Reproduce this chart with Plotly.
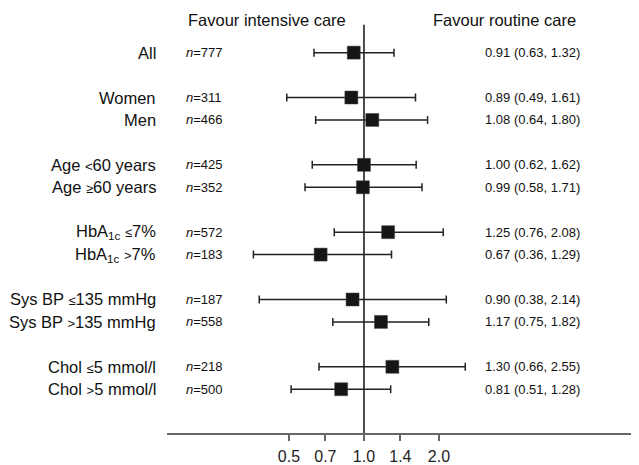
import math
import plotly.graph_objects as go

# ---- data ----
SYM = "<span style='font-size:13px'>{}</span>"
labels = ["All", "Women", "Men",
          "Age " + SYM.format("&lt;") + "60 years",
          "Age " + SYM.format("≥") + "60 years",
          "HbA<sub>1c</sub> " + SYM.format("≤") + "7%",
          "HbA<sub>1c</sub> " + SYM.format("&gt;") + "7%",
          "Sys BP " + SYM.format("≤") + "135 mmHg",
          "Sys BP " + SYM.format("&gt;") + "135 mmHg",
          "Chol " + SYM.format("≤") + "5 mmol/l",
          "Chol " + SYM.format("&gt;") + "5 mmol/l"]
n_vals = [777, 311, 466, 425, 352, 572, 183, 187, 558, 218, 500]
est = [0.91, 0.89, 1.08, 1.00, 0.99, 1.25, 0.67, 0.90, 1.17, 1.30, 0.81]
lo = [0.63, 0.49, 0.64, 0.62, 0.58, 0.76, 0.36, 0.38, 0.75, 0.66, 0.51]
hi = [1.32, 1.61, 1.80, 1.62, 1.71, 2.08, 1.29, 2.14, 1.82, 2.55, 1.28]
group_sizes = [1, 2, 2, 2, 2, 2]
tick_vals = [0.5, 0.7, 1.0, 1.4, 2.0]
tick_text = ["0.5", "0.7", "1.0", "1.4", "2.0"]
header_left = "Favour intensive care"
header_right = "Favour routine care"

# ---- layout of rows (one blank row between groups) ----
rows = []
r = 0
for g in group_sizes:
    for k in range(g):
        rows.append(r)
        r += 1
    r += 1

OFF = 8  # page body margin
W, H = 639 - OFF, 465 - OFF
L, R, T, B = 167 - OFF, 0, 10 - OFF, 29
pw = W - L - R

def px(xpage):
    return (xpage - OFF - L) / pw

FONT = "Liberation Sans, Arial, sans-serif"
TXT = "#111111"

fig = go.Figure()

# reference line at 1
fig.add_trace(go.Scatter(x=[1, 1], y=[-1.24, 16.95], mode="lines",
                         line=dict(color="#111111", width=1.5),
                         hoverinfo="skip", showlegend=False, cliponaxis=False))

fig.add_trace(go.Scatter(
    x=est, y=rows, mode="markers",
    marker=dict(symbol="square", size=13, color="#151515",
                line=dict(width=0.5, color="#444")),
    error_x=dict(type="data", symmetric=False,
                 array=[h - e for h, e in zip(hi, est)],
                 arrayminus=[e - l for e, l in zip(est, lo)],
                 color="#222222", thickness=1.5, width=4),
    showlegend=False, cliponaxis=False))

ann = []
for lab, n, e, l, h, y in zip(labels, n_vals, est, lo, hi, rows):
    ann.append(dict(x=px(158), y=y, xref="paper", yref="y", text=lab,
                    xanchor="right", yanchor="middle", showarrow=False,
                    font=dict(family=FONT, size=16.5, color=TXT)))
    ann.append(dict(x=px(184), y=y, xref="paper", yref="y", text=f"<i>n</i>={n}",
                    xanchor="left", yanchor="middle", showarrow=False,
                    font=dict(family=FONT, size=13, color=TXT)))
    ann.append(dict(x=px(483), y=y, xref="paper", yref="y",
                    text=f"{e:.2f} ({l:.2f}, {h:.2f})",
                    xanchor="left", yanchor="middle", showarrow=False,
                    font=dict(family=FONT, size=13, color=TXT)))
ann.append(dict(x=px(186), y=-1.46, xref="paper", yref="y", text=header_left,
                xanchor="left", yanchor="middle", showarrow=False,
                font=dict(family=FONT, size=16.5, color=TXT)))
ann.append(dict(x=px(431), y=-1.46, xref="paper", yref="y", text=header_right,
                xanchor="left", yanchor="middle", showarrow=False,
                font=dict(family=FONT, size=16.5, color=TXT)))

fig.update_layout(
    width=W, height=H,
    margin=dict(l=L, r=R, t=T, b=B, pad=0),
    paper_bgcolor="white", plot_bgcolor="white",
    annotations=ann,
    xaxis=dict(type="log", range=[math.log10(0.162), math.log10(12.7)],
               tickvals=tick_vals, ticktext=tick_text,
               showgrid=False, zeroline=False,
               showline=True, linecolor="#666666", linewidth=2,
               ticks="outside", ticklen=6, tickwidth=1.5, tickcolor="#666666",
               ticklabelstandoff=2,
               tickfont=dict(family=FONT, size=16, color="#222222"),
               fixedrange=True),
    yaxis=dict(range=[16.95, -1.9], visible=False, showgrid=False,
               zeroline=False, fixedrange=True),
    font=dict(family=FONT),
)

fig.write_html("out.html")
